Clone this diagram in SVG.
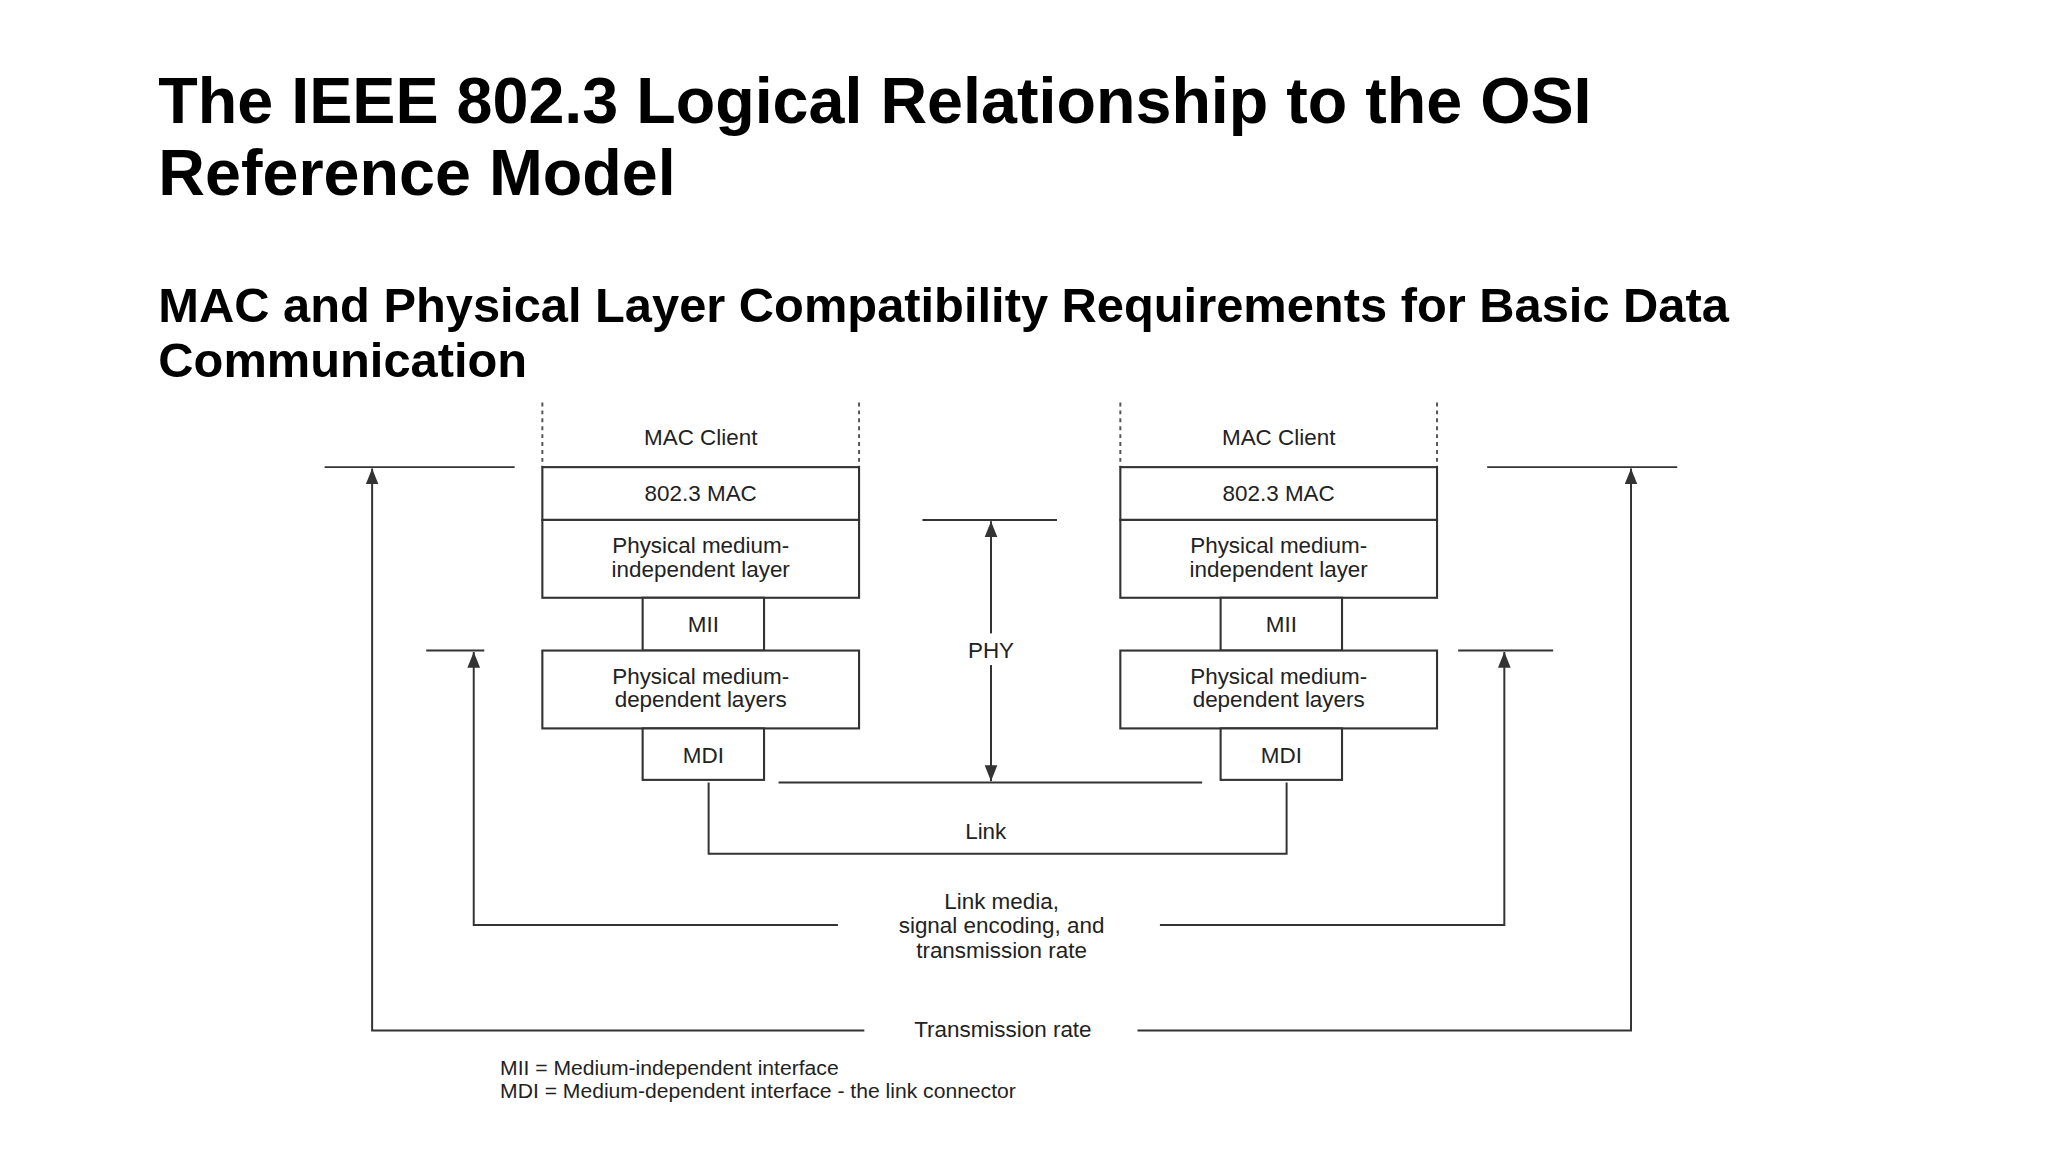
<svg xmlns="http://www.w3.org/2000/svg" width="2048" height="1152" viewBox="0 0 2048 1152">
<defs>
<style>
.t{font-family:"Liberation Sans",Arial,sans-serif;font-weight:bold;fill:#000}
.d{font-family:"Liberation Sans",Arial,sans-serif;font-size:17px;fill:#222;text-anchor:middle}
.l{font-family:"Liberation Sans",Arial,sans-serif;font-size:16px;fill:#222}
.b{fill:#fff;stroke:#333;stroke-width:1.6}
.ln{stroke:#333;stroke-width:1.5;fill:none}
.ds{stroke:#555;stroke-width:1.5;stroke-dasharray:3,3;fill:none}
</style>
<marker id="ar" viewBox="0 0 10 10" refX="10" refY="5" markerWidth="8" markerHeight="8" orient="auto-start-reverse"><path d="M0,1 L10,5 L0,9 z" fill="#333"/></marker>
</defs>
<rect width="2048" height="1152" fill="#fff"/>
<g transform="scale(1.31959)">
<g id="titles">
<text class="t" x="120" y="93" font-size="49">The IEEE 802.3 Logical Relationship to the OSI</text>
<text class="t" x="120" y="148" font-size="49">Reference Model</text>
<text class="t" x="120" y="244" font-size="37">MAC and Physical Layer Compatibility Requirements for Basic Data</text>
<text class="t" x="120" y="286" font-size="37">Communication</text>
</g>
<g id="left-stack">
<line class="ds" x1="411" y1="305" x2="411" y2="354"/><line class="ds" x1="651" y1="305" x2="651" y2="354"/>
<text class="d" x="531" y="337">MAC Client</text>
<rect class="b" x="411" y="354" width="240" height="40"/><text class="d" x="531" y="380">802.3 MAC</text>
<rect class="b" x="411" y="394" width="240" height="59"/><text class="d" x="531" y="419">Physical medium-</text><text class="d" x="531" y="437">independent layer</text>
<rect class="b" x="487" y="453" width="92" height="40"/><text class="d" x="533" y="479">MII</text>
<rect class="b" x="411" y="493" width="240" height="59"/><text class="d" x="531" y="518">Physical medium-</text><text class="d" x="531" y="536">dependent layers</text>
<rect class="b" x="487" y="552" width="92" height="39"/><text class="d" x="533" y="578">MDI</text>
</g>
<g id="right-stack">
<line class="ds" x1="849" y1="305" x2="849" y2="354"/><line class="ds" x1="1089" y1="305" x2="1089" y2="354"/>
<text class="d" x="969" y="337">MAC Client</text>
<rect class="b" x="849" y="354" width="240" height="40"/><text class="d" x="969" y="380">802.3 MAC</text>
<rect class="b" x="849" y="394" width="240" height="59"/><text class="d" x="969" y="419">Physical medium-</text><text class="d" x="969" y="437">independent layer</text>
<rect class="b" x="925" y="453" width="92" height="40"/><text class="d" x="971" y="479">MII</text>
<rect class="b" x="849" y="493" width="240" height="59"/><text class="d" x="969" y="518">Physical medium-</text><text class="d" x="969" y="536">dependent layers</text>
<rect class="b" x="925" y="552" width="92" height="39"/><text class="d" x="971" y="578">MDI</text>
</g>
<g id="connectors">
<line class="ln" x1="246" y1="354" x2="390" y2="354"/>
<line class="ln" x1="1127" y1="354" x2="1271" y2="354"/>
<line class="ln" x1="323" y1="493" x2="367" y2="493"/>
<line class="ln" x1="1105" y1="493" x2="1177" y2="493"/>
<line class="ln" x1="699" y1="394" x2="801" y2="394"/>
<line class="ln" x1="590" y1="593" x2="911" y2="593"/>
<line class="ln" x1="751" y1="510" x2="751" y2="395" marker-end="url(#ar)"/>
<line class="ln" x1="751" y1="505" x2="751" y2="592" marker-end="url(#ar)"/>
<polyline class="ln" points="537,593 537,647 975,647 975,593"/>
<polyline class="ln" points="655,781 282,781 282,355" marker-end="url(#ar)"/>
<polyline class="ln" points="862,781 1236,781 1236,355" marker-end="url(#ar)"/>
<polyline class="ln" points="635,701 359,701 359,494" marker-end="url(#ar)"/>
<polyline class="ln" points="879,701 1140,701 1140,494" marker-end="url(#ar)"/>
</g>
<g id="labels">
<rect x="730" y="480" width="42" height="24" fill="#fff"/>
<text class="d" x="751" y="499">PHY</text>
<text class="d" x="747" y="636">Link</text>
<text class="d" x="759" y="689">Link media,</text>
<text class="d" x="759" y="707">signal encoding, and</text>
<text class="d" x="759" y="726">transmission rate</text>
<text class="d" x="760" y="786">Transmission rate</text>
<text class="l" x="379" y="815">MII = Medium-independent interface</text>
<text class="l" x="379" y="832">MDI = Medium-dependent interface - the link connector</text>
</g>
</g>
</svg>
